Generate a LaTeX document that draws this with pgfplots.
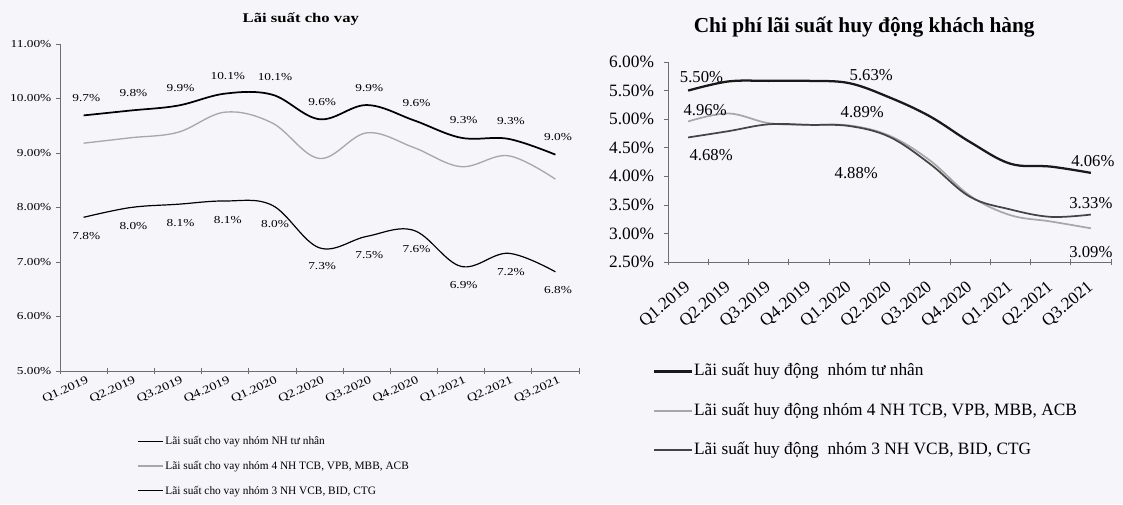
\documentclass[border=0pt]{standalone}
\usepackage{fontspec}
\setmainfont{Liberation Serif}
\newfontfamily\lwide[FakeStretch=1.25]{Liberation Serif}
\usepackage{pgfplots}
\usepackage{pgfplotstable}
\pgfplotsset{compat=1.18}
\definecolor{bg}{RGB}{246,246,250}
\definecolor{axgray}{RGB}{110,110,110}
\definecolor{lgray}{RGB}{168,168,168}
\definecolor{dgray}{RGB}{68,68,68}

% Left chart: lending rates (%)
\pgfplotstableread{
x p f g
0 9.69 9.18 7.82
1 9.78 9.28 8.00
2 9.87 9.38 8.06
3 10.09 9.75 8.12
4 10.07 9.55 8.04
5 9.62 8.90 7.26
6 9.88 9.37 7.47
7 9.60 9.10 7.58
8 9.28 8.75 6.92
9 9.26 8.95 7.16
10 8.97 8.52 6.82
}\leftdata

% Right chart: deposit cost (%)
\pgfplotstableread{
x p f g
0 5.50 4.96 4.68
1 5.66 5.10 4.79
2 5.67 4.93 4.91
3 5.67 4.90 4.90
4 5.63 4.89 4.88
5 5.38 4.71 4.69
6 5.05 4.28 4.22
7 4.60 3.66 3.64
8 4.22 3.32 3.42
9 4.17 3.21 3.29
10 4.06 3.09 3.33
}\rightdata

\begin{document}
\begin{tikzpicture}
\fill[bg] (0,0) rectangle (842.25pt,-378pt);
\useasboundingbox (0,0) rectangle (842.25pt,-378pt);

% ---------------- Left axis ----------------
\begin{axis}[
  at={(45pt,-278.25pt)}, anchor=south west,
  width=389.25pt, height=245.25pt, scale only axis,
  clip=false,
  xmin=-0.5, xmax=10.5, ymin=5, ymax=11,
  axis x line*=bottom, axis y line*=left,
  axis line style={axgray, line width=0.6pt},
  every tick/.style={axgray, line width=0.5pt},
  xtick={0,...,10},
  xticklabels={Q1.2019,Q2.2019,Q3.2019,Q4.2019,Q1.2020,Q2.2020,Q3.2020,Q4.2020,Q1.2021,Q2.2021,Q3.2021},
  major x tick style={draw=none},
  minor xtick={-0.5,0.5,...,10.5},
  minor tick length=4pt,
  xtick align=center,
  ytick={5,6,...,11},
  ytick align=outside,
  major tick length=3pt,
  /pgf/number format/assume math mode=true,
  yticklabel={\pgfmathprintnumber[fixed,fixed zerofill,precision=2]{\tick}\%},
  yticklabel style={font=\lwide\fontsize{8}{9}\selectfont, xshift=0pt},
  xticklabel style={font=\lwide\fontsize{8.5}{10}\selectfont, rotate=25, anchor=north east, inner sep=1pt, xshift=2pt, yshift=-1pt},
  title={\textbf{Lãi suất cho vay}},
  title style={at={(0.464,1.052)}, anchor=center, yshift=0pt, font=\lwide\fontsize{10}{12}\selectfont},
  legend cell align=left,
  legend image code/.code={\draw[#1] (0pt,0pt) -- (19pt,0pt);},
  legend style={at={(0.148,-0.196)}, anchor=north west, draw=none, fill=none, inner sep=0pt,
    font=\fontsize{8.5}{10}\selectfont, row sep=9.5pt,
    nodes={inner xsep=1pt, inner ysep=0pt, text height=7pt, text depth=2pt}},
]
\addplot[black, line width=1.3pt, smooth, tension=0.6] table[x=x,y=p]{\leftdata};
\addlegendentry{Lãi suất cho vay nhóm NH tư nhân}
\addplot[lgray, line width=1pt, smooth, tension=0.6] table[x=x,y=f]{\leftdata};
\addlegendentry{Lãi suất cho vay nhóm 4 NH TCB, VPB, MBB, ACB}
\addplot[black, line width=0.9pt, smooth, tension=0.6] table[x=x,y=g]{\leftdata};
\addlegendentry{Lãi suất cho vay nhóm 3 NH VCB, BID, CTG}

\addplot[draw=none, forget plot, point meta=y,
  nodes near coords={\pgfmathprintnumber[fixed,fixed zerofill,precision=1]{\pgfplotspointmeta}\%},
  every node near coord/.append style={font=\lwide\fontsize{8}{9}\selectfont, anchor=center, yshift=13pt, xshift=2pt, black}]
  table[x=x,y=p]{\leftdata};
\addplot[draw=none, forget plot, point meta=y,
  nodes near coords={\pgfmathprintnumber[fixed,fixed zerofill,precision=1]{\pgfplotspointmeta}\%},
  every node near coord/.append style={font=\lwide\fontsize{8}{9}\selectfont, anchor=center, yshift=-14pt, xshift=2pt, black}]
  table[x=x,y=g]{\leftdata};
\end{axis}

% ---------------- Right axis ----------------
\begin{axis}[
  at={(501pt,-196.5pt)}, anchor=south west,
  width=332.25pt, height=150pt, scale only axis,
  clip=false,
  xmin=-0.5, xmax=10.5, ymin=2.5, ymax=6,
  axis x line*=bottom, axis y line*=left,
  axis line style={axgray, line width=0.6pt},
  every tick/.style={axgray, line width=0.5pt},
  xtick={0,...,10},
  xticklabels={Q1.2019,Q2.2019,Q3.2019,Q4.2019,Q1.2020,Q2.2020,Q3.2020,Q4.2020,Q1.2021,Q2.2021,Q3.2021},
  major x tick style={draw=none},
  minor xtick={-0.5,0.5,...,10.5},
  minor tick length=4.5pt,
  xtick align=center,
  ytick={2.5,3,...,6},
  ytick align=outside,
  major tick length=3pt,
  /pgf/number format/assume math mode=true,
  yticklabel={\pgfmathprintnumber[fixed,fixed zerofill,precision=2]{\tick}\%},
  yticklabel style={font=\fontsize{13}{15}\selectfont, xshift=-4pt},
  xticklabel style={font=\fontsize{13}{15}\selectfont, xshift=-3.3pt, yshift=-10.2pt, rotate=40, anchor=north east, inner sep=1pt},
  title={\textbf{Chi phí lãi suất huy động khách hàng}},
  title style={at={(0.443,1.135)}, anchor=center, yshift=0pt, font=\fontsize{16}{19}\selectfont},
  legend cell align=left,
  legend image code/.code={\draw[#1] (0pt,0pt) -- (28pt,0pt);},
  legend style={at={(-0.034,-0.505)}, anchor=north west, draw=none, fill=none, inner sep=0pt,
    font=\fontsize{13}{15}\selectfont, row sep=17pt,
    nodes={inner xsep=1pt, inner ysep=0pt, text height=9.5pt, text depth=3pt}},
]
\addplot[black!90, line width=1.7pt, smooth, tension=0.6] table[x=x,y=p]{\rightdata};
\addlegendentry{Lãi suất huy động\ \ nhóm tư nhân}
\addplot[lgray, line width=1.3pt, smooth, tension=0.6] table[x=x,y=f]{\rightdata};
\addlegendentry{Lãi suất huy động nhóm 4 NH TCB, VPB, MBB, ACB}
\addplot[dgray, line width=1.3pt, smooth, tension=0.6] table[x=x,y=g]{\rightdata};
\addlegendentry{Lãi suất huy động\ \ nhóm 3 NH VCB, BID, CTG}

% data labels
\pgfplotsset{rlab/.style={draw=none, forget plot, point meta=y,
  nodes near coords={\pgfmathprintnumber[fixed,fixed zerofill,precision=2]{\pgfplotspointmeta}\%},
  every node near coord/.append style={font=\fontsize{12.5}{14}\selectfont, anchor=center, black, #1}}}
\addplot[rlab={xshift=10pt, yshift=10pt}] coordinates {(0,5.50)};
\addplot[rlab={xshift=16.5pt, yshift=6pt}] coordinates {(4,5.63)};
\addplot[rlab={xshift=12.75pt, yshift=8.25pt}] coordinates {(0,4.96)};
\addplot[rlab={xshift=9.75pt, yshift=9.75pt}] coordinates {(4,4.89)};
\addplot[rlab={xshift=17.25pt, yshift=-13.5pt}] coordinates {(0,4.68)};
\addplot[rlab={xshift=5.25pt, yshift=-35.25pt}] coordinates {(4,4.88)};
\addplot[rlab={xshift=1.5pt, yshift=9pt}] coordinates {(10,4.06)};
\addplot[rlab={xshift=0pt, yshift=9pt}] coordinates {(10,3.33)};
\addplot[rlab={xshift=0pt, yshift=-17.5pt}] coordinates {(10,3.09)};
\end{axis}
\end{tikzpicture}
\end{document}
